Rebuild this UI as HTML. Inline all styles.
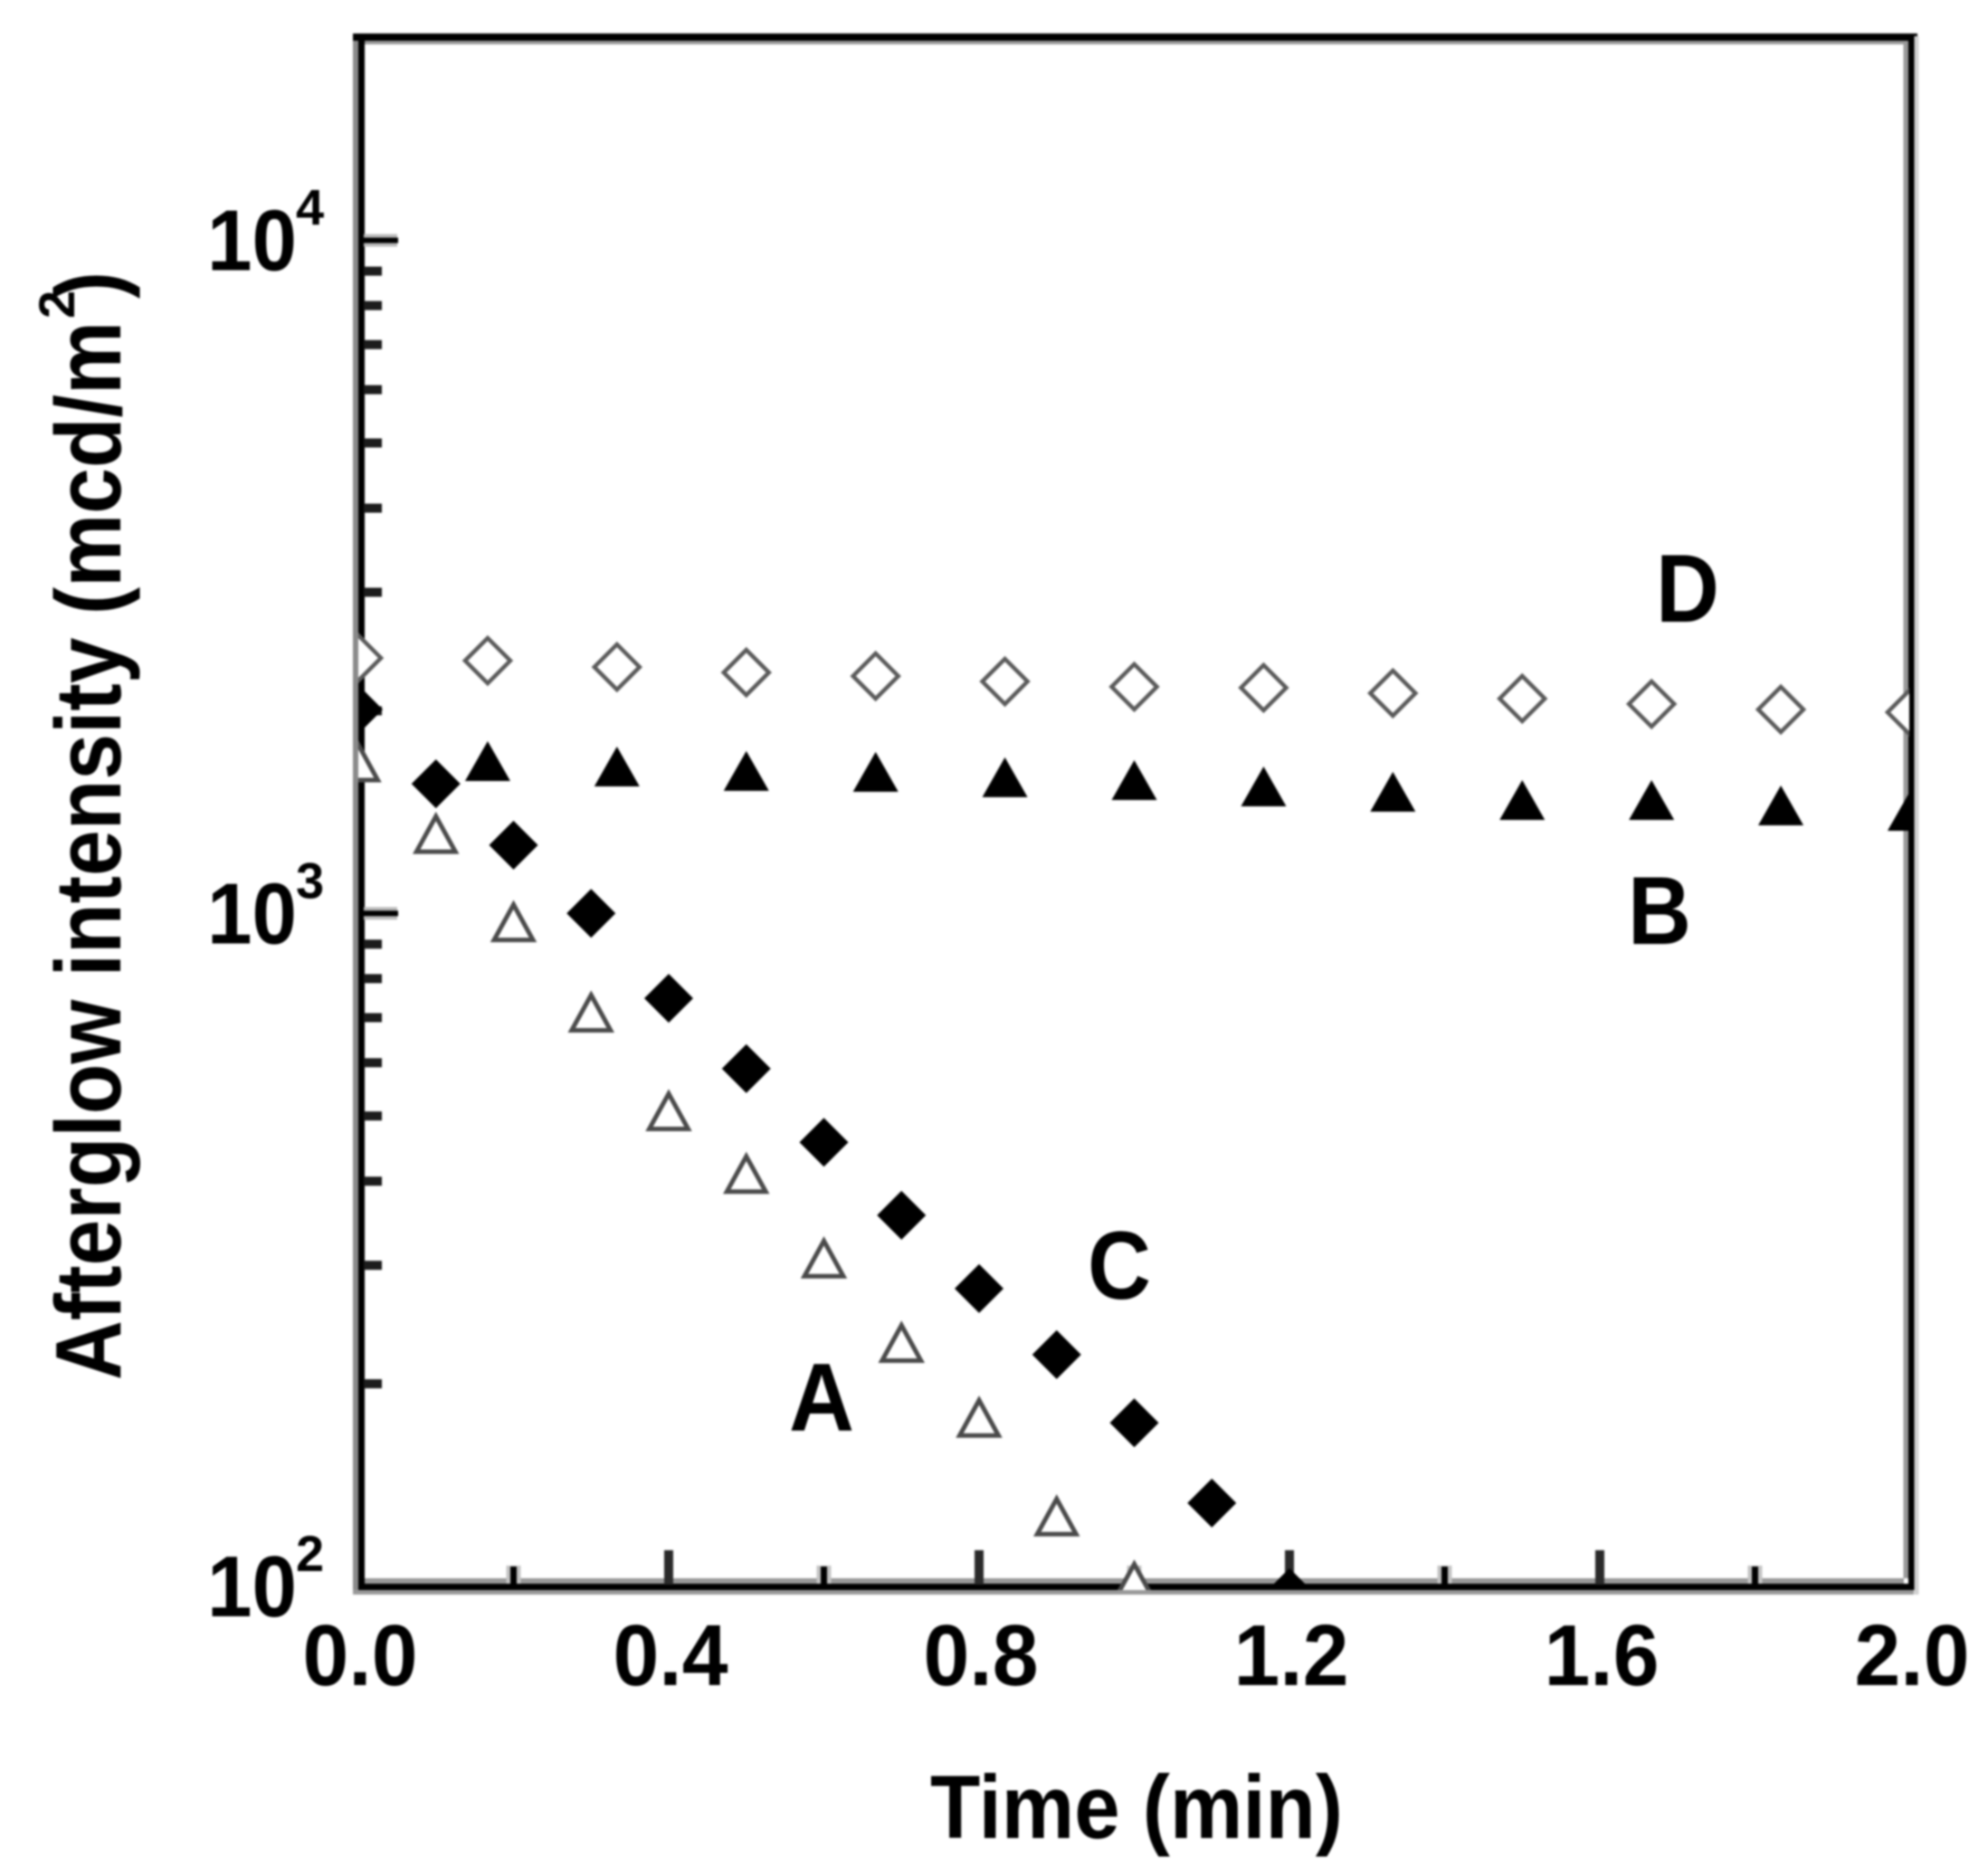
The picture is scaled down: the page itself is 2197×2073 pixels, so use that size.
<!DOCTYPE html>
<html>
<head>
<meta charset="utf-8">
<title>Afterglow intensity vs time</title>
<style>
html,body{margin:0;padding:0;background:#fff;width:2197px;height:2073px;overflow:hidden}
svg{display:block;filter:blur(1px)}
text{font-family:"Liberation Sans",Arial,sans-serif;font-weight:bold;fill:#000}
</style>
</head>
<body>
<svg id="chart" xmlns="http://www.w3.org/2000/svg" width="2197" height="2073" viewBox="0 0 2197 2073">
  <defs>
    <clipPath id="plot-clip"><rect x="396" y="37" width="1714" height="1720"/></clipPath>
  </defs>
  <rect x="0" y="0" width="2197" height="2073" fill="#fff"/>
  <g id="axes"></g>
  <g id="ticks"></g>
  <g id="labels"></g>
  <g id="marks" clip-path="url(#plot-clip)"></g>

  <text x="1028" y="2031" font-size="99" textLength="456" lengthAdjust="spacingAndGlyphs">Time (min)</text>

  <g>
    <text transform="translate(133,1525) rotate(-90)" font-size="103" textLength="1170" lengthAdjust="spacingAndGlyphs">Afterglow intensity (mcd/m</text>
    <text transform="translate(82,352) rotate(-90)" font-size="56">2</text>
    <text transform="translate(133,330) rotate(-90)" font-size="103" textLength="30" lengthAdjust="spacingAndGlyphs">)</text>
  </g>

  <text x="1865" y="687" font-size="107" text-anchor="middle" textLength="70" lengthAdjust="spacingAndGlyphs">D</text>
  <text x="1834" y="1043" font-size="107" text-anchor="middle" textLength="70" lengthAdjust="spacingAndGlyphs">B</text>
  <text x="1237" y="1435" font-size="107" text-anchor="middle" textLength="70" lengthAdjust="spacingAndGlyphs">C</text>
  <text x="908" y="1581" font-size="107" text-anchor="middle" textLength="72" lengthAdjust="spacingAndGlyphs">A</text>
</svg>

<script>
// ---- chart data ----
const timesAC = [0, 0.1, 0.2, 0.3, 0.4, 0.5, 0.6, 0.7, 0.8, 0.9, 1.0, 1.1, 1.2];
const timesBD = [0, 0.1667, 0.3333, 0.5, 0.6667, 0.8333, 1.0, 1.1667, 1.3333, 1.5, 1.6667, 1.8333, 2.0];
const seriesA = [1676, 1312, 970, 712, 508, 410, 307, 230, 178, 127, 101.6];
const seriesB = [null, 1684, 1653, 1628, 1623, 1593, 1578, 1544, 1516, 1474, 1474, 1447, 1420];
const seriesC = [2009, 1558, 1263, 1000, 748, 588, 457, 356, 277, 221, 175, 133, 97.9];
const seriesD = [2396, 2374, 2323, 2280, 2252, 2211, 2171, 2164, 2124, 2085, 2047, 2009, 1990];
const xMajorTicks = [0, 0.4, 0.8, 1.2, 1.6, 2.0];
const xMajorLabels = ["0.0", "0.4", "0.8", "1.2", "1.6", "2.0"];
const xMinorTicks = [0.2, 0.6, 1.0, 1.4, 1.8];
const yMajorExponents = [2, 3, 4];
const yMinorMultiples = [2, 3, 4, 5, 6, 7, 8, 9];
const yMinorDecades = [100, 1000];

// ---- axis functions ----
const NS = "http://www.w3.org/2000/svg";
function xS(t) { return 396 + t * 857.5; }
function yS(v) { return 1753 - (Math.log10(v) - 2) * 743.7; }

function make(tag, attrs, parent) {
  const el = document.createElementNS(NS, tag);
  for (const k in attrs) el.setAttribute(k, attrs[k]);
  parent.appendChild(el);
  return el;
}

const axes = document.getElementById("axes");
const ticks = document.getElementById("ticks");
const labels = document.getElementById("labels");
const marks = document.getElementById("marks");

// ---- frame ----
const frameParts = [
  ["left-axis-halo", 390, 37, 6, 1725, "#8a8a8a"],
  ["left-axis", 396, 37, 7, 1725, "#000"],
  ["top-axis", 390, 37, 1729, 8, "#000"],
  ["top-axis-halo", 403, 45, 1701, 4, "#999"],
  ["bottom-axis-upper-halo", 403, 1744, 1701, 6, "#999"],
  ["bottom-axis", 396, 1750, 1719, 7, "#000"],
  ["bottom-axis-lower-halo", 390, 1757, 1725, 5, "#999"],
  ["right-axis-inner-halo", 2103.5, 45, 6, 1699, "#999"],
  ["right-axis", 2109, 37, 6.5, 1720, "#000"],
  ["right-axis-outer-halo", 2115.5, 40, 5, 1722, "#d0d0d0"]
];
frameParts.forEach(function (p) {
  const r = make("rect", { x: p[1], y: p[2], width: p[3], height: p[4], fill: p[5] }, axes);
  
  
});

// ---- x ticks ----
xMajorTicks.forEach(function (t, i) {
  if (t === 0 || t === 2) return;
  const r = make("rect", { x: xS(t) - 5, y: 1713, width: 10, height: 38, fill: "#2a2a2a" }, ticks);
  
  
});
xMinorTicks.forEach(function (t) {
  const h = make("rect", { x: xS(t) - 8, y: 1730, width: 16, height: 20, fill: "#c4c4c4" }, ticks);
  
  
  const r = make("rect", { x: xS(t) - 3.5, y: 1731, width: 7, height: 20, fill: "#000" }, ticks);
  
  
});
xMajorTicks.forEach(function (t, i) {
  const tx = make("text", { x: xS(t) + 2, y: 1862, "font-size": 96, "text-anchor": "middle", textLength: 127, lengthAdjust: "spacingAndGlyphs" }, labels);
  tx.textContent = xMajorLabels[i];
  
  
});

// ---- y ticks ----
yMajorExponents.forEach(function (e) {
  const y = yS(Math.pow(10, e));
  if (e > 2) {
    const h = make("rect", { x: 402, y: y - 7, width: 37, height: 14, fill: "#bbb" }, ticks);
    
    
    const r = make("rect", { x: 402, y: y - 3, width: 38, height: 6, fill: "#000" }, ticks);
    
    
  }
  const tx = make("text", { x: 229, y: y + 33, "font-size": 96, textLength: 99, lengthAdjust: "spacingAndGlyphs" }, labels);
  tx.textContent = "10";
  
  
  const sup = make("text", { x: 327, y: y - 17, "font-size": 56 }, labels);
  sup.textContent = String(e);
  
  
});
yMinorDecades.forEach(function (d) {
  yMinorMultiples.forEach(function (m) {
    const y = yS(d * m);
    const r = make("rect", { x: 402, y: y - 5, width: 20, height: 10, fill: "#1c1c1c" }, ticks);
    
    
  });
});

// ---- markers ----
function diamond(cx, cy, w, h) {
  return (cx) + "," + (cy - h / 2) + " " + (cx + w / 2) + "," + cy + " " + cx + "," + (cy + h / 2) + " " + (cx - w / 2) + "," + cy;
}
function triangle(cx, cy, w, h) {
  return cx + "," + (cy - h / 2) + " " + (cx + w / 2) + "," + (cy + h / 2) + " " + (cx - w / 2) + "," + (cy + h / 2);
}

seriesA.forEach(function (v, i) {
  const pts = triangle(xS(timesAC[i]), yS(v), 43, 39);
  const m = make("polygon", { points: pts, fill: "#fff", stroke: "#4a4a4a", "stroke-width": 5 }, marks);
  
  
});
seriesB.forEach(function (v, i) {
  if (v === null) return;
  const pts = triangle(xS(timesBD[i]), yS(v), 50, 44);
  const m = make("polygon", { points: pts, fill: "#000" }, marks);
  
  
});
seriesC.forEach(function (v, i) {
  const pts = diamond(xS(timesAC[i]), yS(v), 54, 54);
  const m = make("polygon", { points: pts, fill: "#000" }, marks);
  
  
});
seriesD.forEach(function (v, i) {
  const pts = diamond(xS(timesBD[i]), yS(v), 50, 50);
  const m = make("polygon", { points: pts, fill: "#fff", stroke: "#5a5a5a", "stroke-width": 4.5 }, marks);
  
  
});
</script>
</body>
</html>
